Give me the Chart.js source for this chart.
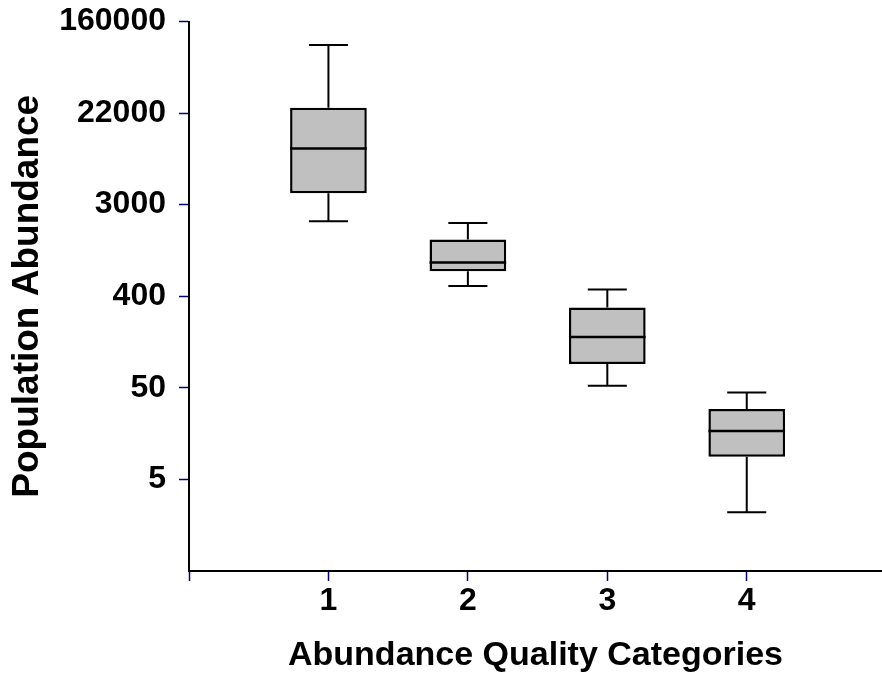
<!DOCTYPE html>
<html>
<head>
<meta charset="utf-8">
<script src="https://cdn.jsdelivr.net/npm/chart.js@4/dist/chart.umd.min.js"></script>
<style>
    body { margin: 0; background: #ffffff; }
    canvas { display: block; }
</style>
</head>
<body>
<canvas id="boxChart" width="882" height="679"></canvas>
<script>
// abundance quality categories and the five-number summaries
const categories = [1, 2, 3, 4]
const whiskerLow = [2080, 506, 57, 3.6]
const quartile1 = [3815, 698, 92, 12.1]
const medians = [10190, 844, 166, 21.3]
const quartile3 = [24740, 1396, 316, 34.4]
const whiskerHigh = [97400, 1994, 468, 49.3]

// y ticks sit at e^2, e^4 ... e^12 and carry rounded labels
const yTickValues = [7.389, 54.6, 403.43, 2980.96, 22026.47, 162754.79]
const yTickLabels = ['5', '50', '400', '3000', '22000', '160000']
const xTickValues = [0, 1, 2, 3, 4]

const family = "'Liberation Sans', Arial, sans-serif"
const tickFont = { family, size: 32, weight: 'bold' }

const boxExtras = {
    id: 'boxExtras',
    afterDatasetsDraw(chart) {
        const { ctx, scales: { x, y } } = chart
        const bars = chart.getDatasetMeta(0).data
        ctx.save()
        ctx.strokeStyle = '#000000'
        categories.forEach((cat, i) => {
            const cx = x.getPixelForValue(cat)
            const half = bars[i].width / 2
            const cap = x.getPixelForValue(cat + 0.14) - cx

            ctx.lineWidth = 2
            ctx.beginPath()
            ctx.moveTo(cx, y.getPixelForValue(quartile3[i]))
            ctx.lineTo(cx, y.getPixelForValue(whiskerHigh[i]))
            ctx.moveTo(cx - cap, y.getPixelForValue(whiskerHigh[i]))
            ctx.lineTo(cx + cap, y.getPixelForValue(whiskerHigh[i]))
            ctx.moveTo(cx, y.getPixelForValue(quartile1[i]))
            ctx.lineTo(cx, y.getPixelForValue(whiskerLow[i]))
            ctx.moveTo(cx - cap, y.getPixelForValue(whiskerLow[i]))
            ctx.lineTo(cx + cap, y.getPixelForValue(whiskerLow[i]))
            ctx.stroke()

            ctx.lineWidth = 2.5
            ctx.beginPath()
            ctx.moveTo(cx - half, y.getPixelForValue(medians[i]))
            ctx.lineTo(cx + half, y.getPixelForValue(medians[i]))
            ctx.stroke()
        })
        ctx.restore()
    },
}

new Chart(document.getElementById('boxChart').getContext('2d'), {
    type: 'bar',
    data: {
        datasets: [{
            data: categories.map((cat, i) => ({ x: cat, y: [quartile1[i], quartile3[i]] })),
            backgroundColor: '#c0c0c0',
            borderColor: '#000000',
            borderWidth: 2.5,
            borderSkipped: false,
            barPercentage: 0.55,
            categoryPercentage: 1,
        }],
    },
    options: {
        responsive: false,
        animation: false,
        layout: { padding: { top: 21.5, right: 0, bottom: 0, left: 0 } },
        plugins: {
            legend: { display: false },
            tooltip: { enabled: false },
        },
        scales: {
            x: {
                type: 'linear',
                offset: false,
                min: 0,
                max: 4.97,
                afterBuildTicks: scale => { scale.ticks = xTickValues.map(v => ({ value: v })) },
                afterFit: scale => { scale.height = 108 },
                ticks: {
                    color: '#000000',
                    font: tickFont,
                    padding: 1,
                    autoSkip: false,
                    maxRotation: 0,
                    callback: value => (value === 0 ? '' : String(value)),
                },
                grid: { offset: false, drawOnChartArea: false, tickColor: '#000080', tickLength: 10, tickWidth: 1.5 },
                border: { color: '#000000', width: 2 },
                title: {
                    display: true,
                    text: 'Abundance Quality Categories',
                    color: '#000000',
                    font: { family, size: 34, weight: 'bold' },
                    padding: { top: 0, bottom: 3 },
                },
            },
            y: {
                type: 'logarithmic',
                min: 1,
                max: 162754.79,
                afterBuildTicks: scale => { scale.ticks = yTickValues.map(v => ({ value: v })) },
                afterFit: scale => {
                    scale.width = 189
                    scale.paddingTop = 0
                    scale.paddingBottom = 0
                },
                ticks: {
                    color: '#000000',
                    font: tickFont,
                    padding: 13,
                    autoSkip: false,
                    callback: (value, index) => yTickLabels[index],
                },
                grid: { offset: false, drawOnChartArea: false, tickColor: '#000080', tickLength: 10, tickWidth: 1.5 },
                border: { color: '#000000', width: 2 },
                title: {
                    display: true,
                    text: 'Population Abundance',
                    color: '#000000',
                    font: { family, size: 37, weight: 'bold' },
                    padding: { top: 6, bottom: 0 },
                },
            },
        },
    },
    plugins: [boxExtras],
})
</script>
</body>
</html>
